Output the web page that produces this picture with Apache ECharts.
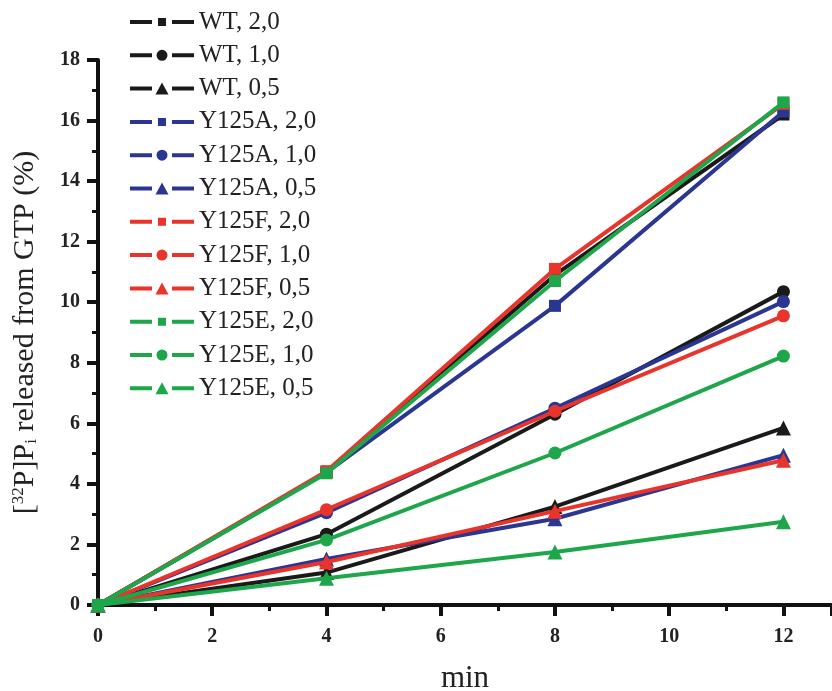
<!DOCTYPE html>
<html>
<head>
<meta charset="utf-8">
<script src="https://cdn.jsdelivr.net/npm/echarts@6/dist/echarts.min.js"></script>
<style>html,body{margin:0;padding:0;background:#fff;}#c{width:832px;height:691px;}</style>
</head>
<body>
<div id="c"></div>
<script>
const times = [0, 4, 8, 12];
const names = ["WT, 2,0","WT, 1,0","WT, 0,5","Y125A, 2,0","Y125A, 1,0","Y125A, 0,5","Y125F, 2,0","Y125F, 1,0","Y125F, 0,5","Y125E, 2,0","Y125E, 1,0","Y125E, 0,5"];
const wt20 = [0, 4.38, 10.9, 16.2];
const wt10 = [0, 2.34, 6.3, 10.35];
const wt05 = [0, 1.07, 3.25, 5.85];
const a20 = [0, 4.38, 9.88, 16.3];
const a10 = [0, 3.05, 6.5, 10.02];
const a05 = [0, 1.52, 2.85, 4.95];
const f20 = [0, 4.42, 11.1, 16.55];
const f10 = [0, 3.15, 6.4, 9.55];
const f05 = [0, 1.42, 3.1, 4.78];
const e20 = [0, 4.35, 10.7, 16.6];
const e10 = [0, 2.15, 5.02, 8.22];
const e05 = [0, 0.88, 1.75, 2.75];
const values = [wt20, wt10, wt05, a20, a10, a05, f20, f10, f05, e20, e10, e05];
const colors = ['#1a1a1a','#2b3592','#e8342a','#1ea64b'];
const symbols = ['rect','circle','triangle'];
const sizes = [12, 13, 15];

const bars = 'M0,0 M64,12 M0,4 L22,4 L22,8 L0,8 Z M42,4 L64,4 L64,8 L42,8 Z ';
const icons = [
  'path://' + bars + 'M28,2 L36,2 L36,10 L28,10 Z',
  'path://' + bars + 'M26.5,6 A5.5,5.5 0 1 0 37.5,6 A5.5,5.5 0 1 0 26.5,6 Z',
  'path://' + bars + 'M25.5,12 L32,0 L38.5,12 Z'
];

const series = values.map((v, i) => ({
  name: names[i],
  type: 'line',
  data: times.map((t, j) => [t, v[j]]),
  symbol: symbols[i % 3],
  symbolSize: sizes[i % 3],
  showAllSymbol: true,
  color: colors[Math.floor(i / 3)],
  lineStyle: { width: 4, color: colors[Math.floor(i / 3)] },
  itemStyle: { color: colors[Math.floor(i / 3)] },
  z: 2 + i
}));

const chart = echarts.init(document.getElementById('c'), null, { renderer: 'canvas' });
chart.setOption({
  animation: false,
  backgroundColor: '#fff',
  grid: { left: 98, top: 60, bottom: 86, right: 0, outerBoundsMode: 'none', containLabel: false },
  legend: {
    orient: 'vertical', left: 130, top: 7, padding: 0,
    itemWidth: 64, itemHeight: 12, itemGap: 3.3, itemTextGap: 8,
    textStyle: { fontFamily: 'Liberation Serif', fontSize: 25, color: '#222', lineHeight: 30 },
    data: names.map((n, i) => ({ name: n, icon: icons[i % 3] }))
  },
  xAxis: {
    type: 'value', min: 0, max: 12.85, interval: 2,
    name: 'min', nameLocation: 'middle', nameGap: 58,
    nameTextStyle: { fontFamily: 'Liberation Serif', fontSize: 31, color: '#222' },
    axisLine: { onZero: false, lineStyle: { color: '#111', width: 4 } },
    axisTick: { inside: false, length: 11, lineStyle: { width: 4, color: '#111' } },
    minorTick: { show: true, splitNumber: 2, length: 6, lineStyle: { width: 3, color: '#111' } },
    axisLabel: { showMaxLabel: false, margin: 22, fontFamily: 'Liberation Serif', fontWeight: 'bold', fontSize: 20, color: '#222' },
    splitLine: { show: false }
  },
  yAxis: {
    type: 'value', min: 0, max: 18, interval: 2,
    name: '{n|[}{sup|32}{n|P]P}{sub|i}{n| released from GTP (%)}',
    nameLocation: 'middle', nameGap: 58, nameRotate: 90,
    nameTextStyle: {
      fontFamily: 'Liberation Serif', fontSize: 30, color: '#222',
      rich: {
        n: { fontFamily: 'Liberation Serif', fontSize: 30, color: '#222' },
        sup: { fontFamily: 'Liberation Serif', fontSize: 17, color: '#222', verticalAlign: 'top', padding: [0,0,12,0] },
        sub: { fontFamily: 'Liberation Serif', fontSize: 17, color: '#222', verticalAlign: 'bottom', padding: [12,0,0,0] }
      }
    },
    axisLine: { lineStyle: { color: '#111', width: 4 } },
    axisTick: { inside: false, length: 11, lineStyle: { width: 4, color: '#111' } },
    minorTick: { show: true, splitNumber: 2, length: 6, lineStyle: { width: 3, color: '#111' } },
    axisLabel: { margin: 18, fontFamily: 'Liberation Serif', fontWeight: 'bold', fontSize: 20, color: '#222' },
    splitLine: { show: false }
  },
  series: series
});
</script>
</body>
</html>
